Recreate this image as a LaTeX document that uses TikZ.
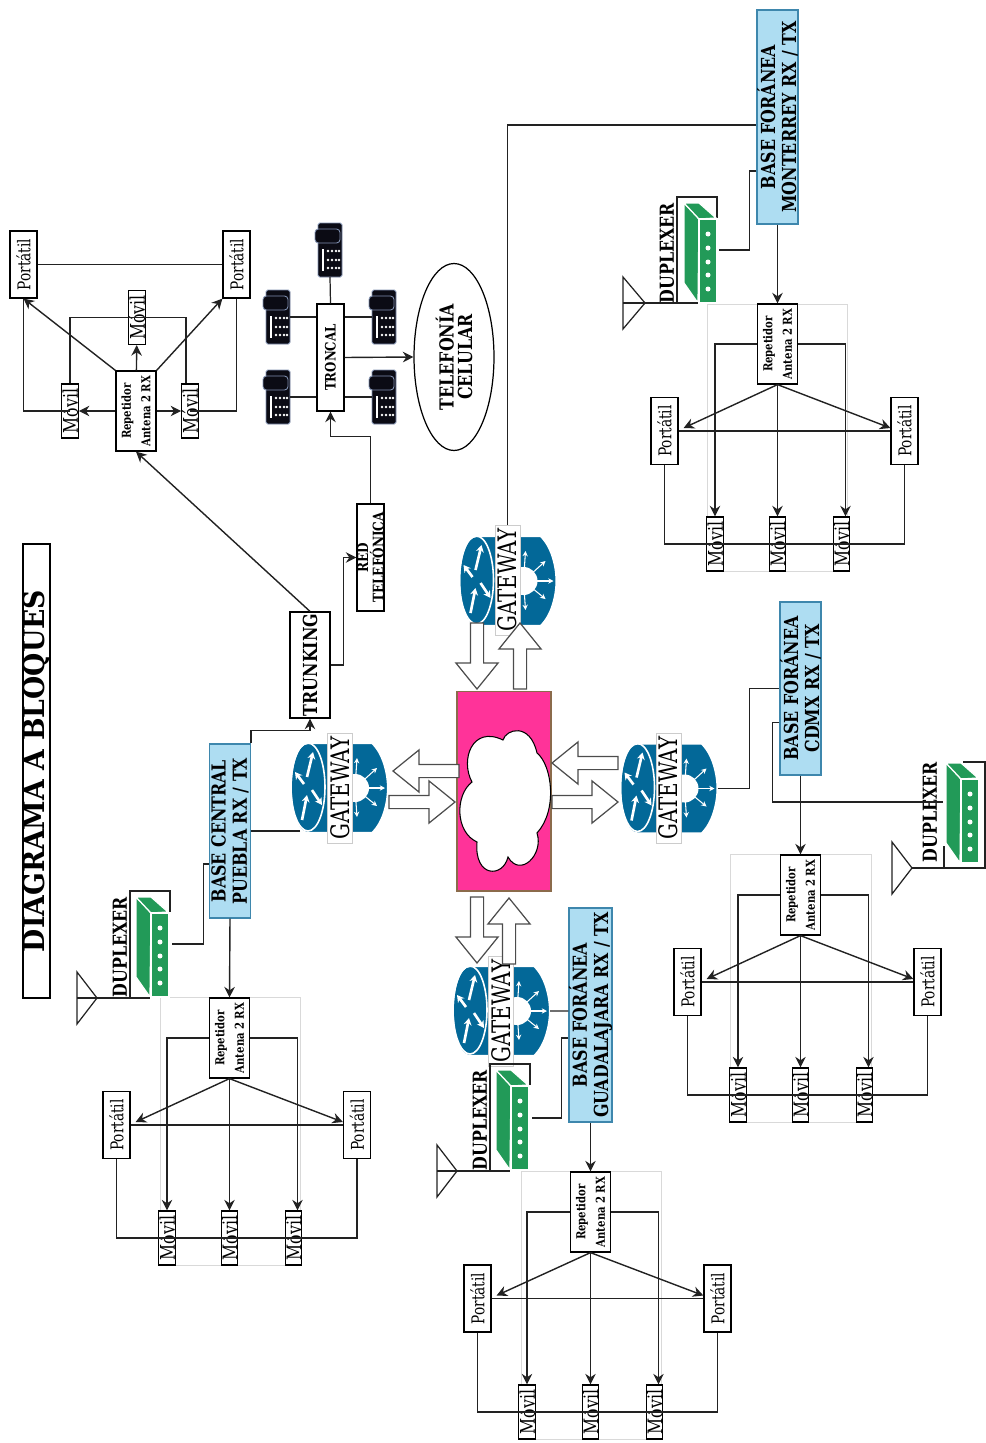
\documentclass[tikz,border=0pt]{standalone}
\usepackage{tikz}
\usepackage{xcolor}
\usepackage{fontspec}
\setmainfont{DejaVu Serif}[FakeStretch=0.78,BoldFeatures={FakeStretch=0.82}]
\newfontfamily\titlefont{DejaVu Serif}[FakeStretch=0.92]
\usetikzlibrary{shapes,arrows.meta,positioning,calc}
\definecolor{BaseBlue}{HTML}{AEDDF2}
\definecolor{BaseEdge}{HTML}{3E87AD}
\definecolor{RouterBlue}{HTML}{036898}
\definecolor{DuplexGreen}{HTML}{229A58}
\definecolor{NetPink}{HTML}{FF3399}
\definecolor{NetEdge}{HTML}{8B6B4B}
\definecolor{PhoneBlack}{HTML}{0B0B14}
\definecolor{PhoneEdge}{HTML}{8090B0}
\definecolor{LineBlack}{HTML}{222222}
\tikzset{
    % Base node style
    basenode/.style={
        draw=black,
        fill=white,
        line width=0.7pt,
        rotate=90,
        align=center,
        inner sep=0pt,
        font=\fontsize{10}{12}\selectfont
    },
    % Title box
    titlenode/.style={
        basenode,
        minimum width=9.08cm,
        minimum height=0.54cm,
        font=\fontsize{16.5}{20}\titlefont\bfseries
    },
    % Portable radio
    portnode/.style={
        basenode,
        minimum width=1.34cm,
        minimum height=0.54cm
    },
    % Mobile radio
    movilnode/.style={
        basenode,
        minimum width=1.08cm,
        minimum height=0.29cm,
        font=\fontsize{11.5}{12}\selectfont
    },
    % Repeater
    repnode/.style={
        basenode,
        minimum width=1.6cm,
        minimum height=0.8cm,
        font=\fontsize{7}{11}\selectfont\bfseries
    },
    % Base station
    basestation/.style={
        basenode,
        draw=BaseEdge,
        fill=BaseBlue,
        minimum height=0.81cm,
        font=\fontsize{11}{12}\selectfont\bfseries
    },
    % Gateway label
    gatenode/.style={
        basenode,
        draw=black!20,
        line width=0.3pt,
        minimum width=2.2cm,
        minimum height=0.5cm,
        font=\fontsize{14.5}{12}\selectfont
    },
    % Bold boxes
    boldbox/.style={
        basenode,
        font=\fontsize{8.4}{8.8}\selectfont\bfseries
    },
    % Duplexer label
    duplabel/.style={
        rotate=90,
        inner sep=0pt,
        font=\fontsize{11}{12}\selectfont\bfseries
    },
    % Block arrow
    bigarrow/.style={
        single arrow,
        anchor=tip,
        draw=black!70,
        fill=white,
        line width=0.7pt,
        inner sep=0pt,
        text height=0.24cm,
        single arrow head extend=0.29cm,
        single arrow head indent=0cm,
        single arrow tip angle=78,
        minimum height=1.32cm
    },
    % Arrow styles (straight lines only)
    myarrow/.style={
        -{Stealth[length=6pt,width=6pt]},
        line width=0.8pt,
        draw=LineBlack
    },
    myline/.style={
        line width=0.7pt,
        draw=LineBlack
    },
    % Frame behind a repeater group
    groupframe/.style={
        draw=black!15,
        line width=0.4pt
    },
    % Antenna triangle
    antenna/.style={
        draw=LineBlack,
        line width=0.7pt,
        fill=white
    },
    % Router icon
    router/.pic={
        \draw[white, line width=1.2pt, fill=RouterBlue] (-31,-45) -- (33,-45)
            .. controls (44,-35) and (49,-15) .. (49,0)
            .. controls (49,15) and (44,35) .. (33,45) -- (-31,45)
            .. controls (-54,45) and (-54,-45) .. (-31,-45) -- cycle;
        \draw[white, line width=0.9pt] (-31,-1) ellipse (17 and 44);
        \fill[white] (16,0) circle (14);
        \foreach \tipx/\tipy in {18/-30,38/-20,46/0,38/18,18/29}
            \draw[white, line width=0.6pt, -{Stealth[length=3pt,width=3pt]}] (16,0) -- (\tipx,\tipy);
        \foreach \fromx/\fromy/\tox/\toy in {-32/-11/-26/-36,-35/-4/-44/-16,-37/32/-32/7,-27/2/-17/17}
            \draw[white, line width=1.5pt, -{Stealth[length=4pt,width=4.5pt]}] (\fromx,\fromy) -- (\tox,\toy);
        \coordinate (-w) at (-39,43);
        \coordinate (-e) at (49,0);
    },
    % Duplexer icon
    duplexer/.pic={
        \draw[white, line width=0.7pt, fill=DuplexGreen] (-17,-50) -- (-2,-34) -- (-3,50) -- (-17,30) -- cycle;
        \draw[white, line width=0.7pt, fill=DuplexGreen] (-17,-50) -- (-2,-50) -- (15,-35) -- (-2,-34) -- cycle;
        \draw[white, line width=0.7pt, fill=DuplexGreen] (-2,-34) rectangle (16,50);
        \foreach \doty in {-19,-5,9,22,36}
            \fill[white] (7,\doty) circle (2.5);
    },
    % Telephone icon
    telephone/.pic={
        \draw[PhoneEdge, line width=0.5pt, fill=PhoneBlack, rounded corners=1pt] (-12,-27) rectangle (12,27);
        \draw[PhoneEdge, line width=0.5pt, fill=PhoneBlack, rounded corners=2pt] (-15,-21) rectangle (10,-7);
        \fill[white] (-8,-1) rectangle (-6,21);
        \foreach \keyx in {-2,2,6,9}
            \foreach \keyy in {1,10,18}
                \fill[white] (\keyx,\keyy) circle (1.3);
        \coordinate (-n) at (0,-27);
        \coordinate (-s) at (0,27);
        \coordinate (-w) at (-12,0);
        \coordinate (-e) at (12,0);
    }
}
\begin{document}
\begin{tikzpicture}[x=0.02cm, y=-0.02cm]
        \useasboundingbox (0,0) rectangle (985,1443);

        % Title
        \node[titlenode] (title) at (36.5,771) {DIAGRAMA A BLOQUES};

        % Repeater at the trunking side
        \node[repnode] (rp0) at (136,411) {Repetidor\\Antena 2 RX};
        \node[movilnode] (mv0a) at (70,411) {Móvil};
        \node[movilnode] (mv0b) at (137,317.5) {Móvil};
        \node[movilnode] (mv0c) at (190,411) {Móvil};
        \node[portnode] (pt0a) at (23.5,264.5) {Portátil};
        \node[portnode] (pt0b) at (236.5,264.5) {Portátil};
        \draw[myarrow] (rp0) -- (mv0a);
        \draw[myarrow] (rp0) -- (mv0b);
        \draw[myarrow] (rp0) -- (mv0c);
        \draw[myarrow] (rp0.north east) -- (pt0a.west);
        \draw[myarrow] (rp0.south east) -- (pt0b.north west);
        \draw[myline] (pt0a) -- (pt0b);
        \draw[myline] (pt0a.west) |- (mv0a.center);
        \draw[myline] (pt0b.west) |- (mv0c.center);
        \draw[myline] (mv0a.east) |- (mv0b.south);
        \draw[myline] ([xshift=-0.08cm]mv0c.east) |- (mv0b.north);

        % Trunk and telephones
        \node[basenode, minimum width=2.14cm, minimum height=0.54cm, font=\fontsize{8.2}{12}\selectfont\bfseries] (tc) at (330.5,357.5) {TRONCAL};
        \pic (ph1) at (330,250) {telephone};
        \pic (ph2) at (278,317) {telephone};
        \pic (ph3) at (384,317) {telephone};
        \pic (ph4) at (278,397) {telephone};
        \pic (ph5) at (384,397) {telephone};
        \draw[myline] (ph1-s) -- (tc.east);
        \draw[myline] (ph2-e) -- (ph2-e -| tc.north);
        \draw[myline] (ph3-w) -- (ph3-w -| tc.south);
        \draw[myline] (ph4-e) -- (ph4-e -| tc.north);
        \draw[myline] (ph5-w) -- (ph5-w -| tc.south);
        \node[boldbox, ellipse, minimum width=3.74cm, minimum height=1.6cm, font=\fontsize{11}{10.5}\selectfont\bfseries] (cel) at (454,357) {TELEFONÍA\\CELULAR};
        \draw[myarrow] (tc.south) -- (cel.north);

        % Trunking and telephone network
        \node[basenode, minimum width=2.12cm, minimum height=0.8cm, font=\fontsize{11}{12}\selectfont\bfseries] (tr) at (310,665) {TRUNKING};
        \node[boldbox, minimum width=2.14cm, minimum height=0.54cm] (red) at (370.5,557.5) {RED\\TELEFÓNICA};
        \draw[myarrow] (tr.east) -- (rp0.west);
        \draw[myarrow] (tr.south) -- ++(13,0) |- (red.north);
        \draw[myarrow] (red.east) -- ++(0,-67) -| (tc.west);

        % Central network
        \node[draw=NetEdge, fill=NetPink, line width=0.6pt, minimum width=1.88cm, minimum height=4cm, inner sep=0pt] (net) at (504,791) {};
        \draw[draw=black, fill=white, line width=0.6pt] (503,740)
            .. controls (506,729) and (530,722) .. (537,753)
            .. controls (552,765) and (558,810) .. (537,833)
            .. controls (544,855) and (520,878) .. (508,857)
            .. controls (503,878) and (474,878) .. (477,842)
            .. controls (455,832) and (455,795) .. (472,782)
            .. controls (460,760) and (472,725) .. (503,740) -- cycle;

        % Puebla
        \draw[groupframe] (160,997) rectangle (300,1265);
        \node[basestation, minimum width=3.48cm] (bs1) at (230,831) {BASE CENTRAL\\PUEBLA RX / TX};
        \pic (rt1) at (339,788) {router};
        \node[gatenode] (gw1) at (340,788) {GATEWAY};
        \draw[myline] (rt1-w) -- (bs1.south);
        \draw[myarrow] (bs1.south east) -- ++(0,-13) -| (tr.west);
        \node[duplabel] (dl1) at (120,947) {DUPLEXER};
        \draw[myline] (130,998) -- (130,891) -- (170,891) -- (170,912);
        \pic (dp1) at (153,947) {duplexer};
        \coordinate (ap1) at (172,944);
        \coordinate (ak1) at (150,998);
        \draw[antenna] (77,972) -- (97,998) -- (77,1024) -- cycle;
        \coordinate (an1) at (77,998);
        \draw[myline] (an1) -- (ak1);
        \draw[myline] ([yshift=-0.66cm]bs1.north) -- ++(-6,0) |- (ap1);
        \node[repnode] (rp1) at (229.5,1038) {Repetidor\\Antena 2 RX};
        \node[portnode] (pt1a) at (116.5,1125) {Portátil};
        \node[portnode] (pt1b) at (357,1125) {Portátil};
        \node[movilnode] (mv1a) at (167,1238) {Móvil};
        \node[movilnode] (mv1b) at (229.5,1238) {Móvil};
        \node[movilnode] (mv1c) at (293.5,1238) {Móvil};
        \draw[myarrow] (bs1.west) -- (rp1.east);
        \draw[myarrow] (rp1.north) -| (mv1a.east);
        \draw[myarrow] (rp1.west) -- (mv1b.east);
        \draw[myarrow] (rp1.south) -| ([xshift=0.08cm]mv1c.east);
        \draw[myarrow] (rp1.west) -- ([xshift=0.1cm,yshift=0.06cm]pt1a.south);
        \draw[myarrow] (rp1.west) -- ([yshift=0.06cm]pt1b.north);
        \draw[myline] (pt1a.south) -- (pt1b.north);
        \draw[myline] (pt1a.west) |- (mv1b.center) -| (pt1b.west);

        % Guadalajara
        \draw[groupframe] (521,1171) rectangle (661,1439);
        \node[basestation, minimum width=4.28cm] (bs3) at (590.5,1015) {BASE FORÁNEA\\GUADALAJARA RX / TX};
        \pic (rt3) at (501,1011) {router};
        \node[gatenode] (gw3) at (501,1011) {GATEWAY};
        \draw[myline] (rt3-e) -- ([yshift=0.08cm]bs3.north);
        \node[duplabel] (dl3) at (480,1120) {DUPLEXER};
        \draw[myline] (490,1171) -- (490,1064) -- (530,1064) -- (530,1085);
        \pic (dp3) at (513,1120) {duplexer};
        \coordinate (ap3) at (532,1118);
        \coordinate (ak3) at (510,1171);
        \draw[antenna] (437,1145) -- (457,1171) -- (437,1197) -- cycle;
        \coordinate (an3) at (437,1171);
        \draw[myline] (an3) -- (ak3);
        \draw[myline] ([yshift=-0.46cm]bs3.north) -- ++(-7,0) |- (ap3);
        \node[repnode] (rp3) at (590.5,1212) {Repetidor\\Antena 2 RX};
        \node[portnode] (pt3a) at (477.5,1298.5) {Portátil};
        \node[portnode] (pt3b) at (717.5,1298.5) {Portátil};
        \node[movilnode] (mv3a) at (527,1412) {Móvil};
        \node[movilnode] (mv3b) at (590.5,1412) {Móvil};
        \node[movilnode] (mv3c) at (654.5,1412) {Móvil};
        \draw[myarrow] (bs3.west) -- (rp3.east);
        \draw[myarrow] (rp3.north) -| (mv3a.east);
        \draw[myarrow] (rp3.west) -- (mv3b.east);
        \draw[myarrow] (rp3.south) -| ([xshift=0.08cm]mv3c.east);
        \draw[myarrow] (rp3.west) -- ([xshift=0.1cm,yshift=0.06cm]pt3a.south);
        \draw[myarrow] (rp3.west) -- ([yshift=0.06cm]pt3b.north);
        \draw[myline] (pt3a.south) -- (pt3b.north);
        \draw[myline] (pt3a.west) |- (mv3b.center) -| (pt3b.west);

        % CDMX
        \draw[groupframe] (730,854) rectangle (871,1122);
        \node[basestation, minimum width=3.46cm] (bs2) at (800.5,688.5) {BASE FORÁNEA\\CDMX RX / TX};
        \pic (rt2) at (668.5,788.5) {router};
        \node[gatenode] (gw2) at (668.5,788) {GATEWAY};
        \draw[myline] (rt2-e) -- ++(32,0) |- (bs2.north);
        \node[duplabel] (dl2) at (930,812) {DUPLEXER};
        \draw[myline] (944,868) -- (944,846);
        \draw[myline] (892,868) -- (985,868) -- (985,762) -- (963,762);
        \pic (dp2) at (963,813) {duplexer};
        \coordinate (ap2) at (943,802);
        \draw[antenna] (892,842) -- (912,868) -- (892,894) -- cycle;
        \draw[myline] ([yshift=-0.68cm]bs2.north) -- ++(-7,0) |- (ap2);
        \node[repnode] (rp2) at (800.5,895) {Repetidor\\Antena 2 RX};
        \node[portnode] (pt2a) at (687.5,982) {Portátil};
        \node[portnode] (pt2b) at (927.5,982) {Portátil};
        \node[movilnode] (mv2a) at (738,1095) {Móvil};
        \node[movilnode] (mv2b) at (800.5,1095) {Móvil};
        \node[movilnode] (mv2c) at (864.5,1095) {Móvil};
        \draw[myarrow] (bs2.west) -- (rp2.east);
        \draw[myarrow] (rp2.north) -| (mv2a.east);
        \draw[myarrow] (rp2.west) -- (mv2b.east);
        \draw[myarrow] (rp2.south) -| ([xshift=0.08cm]mv2c.east);
        \draw[myarrow] (rp2.west) -- ([xshift=0.1cm,yshift=0.06cm]pt2a.south);
        \draw[myarrow] (rp2.west) -- ([yshift=0.06cm]pt2b.north);
        \draw[myline] (pt2a.south) -- (pt2b.north);
        \draw[myline] (pt2a.west) |- (mv2b.center) -| (pt2b.west);

        % Monterrey
        \draw[groupframe] (707,304) rectangle (847,571);
        \node[basestation, minimum width=4.28cm] (bs4) at (777.5,117) {BASE FORÁNEA\\MONTERREY RX / TX};
        \pic (rt4) at (507.5,581) {router};
        \node[gatenode] (gw4) at (507.5,580) {GATEWAY};
        \draw[myline] (gw4.east) |- ([yshift=-0.16cm]bs4.north);
        \node[duplabel] (dl4) at (667,253) {DUPLEXER};
        \draw[myline] (677,303) -- (677,197) -- (717,197) -- (717,218);
        \pic (dp4) at (701,253) {duplexer};
        \coordinate (ap4) at (719,250);
        \coordinate (ak4) at (698,303);
        \draw[antenna] (623,277) -- (645,303) -- (623,329) -- cycle;
        \coordinate (an4) at (623,303);
        \draw[myline] (an4) -- (ak4);
        \draw[myline] ([yshift=-1.08cm]bs4.north) -- ++(-7,0) |- (ap4);
        \node[repnode] (rp4) at (777.5,344) {Repetidor\\Antena 2 RX};
        \node[portnode] (pt4a) at (664.5,431) {Portátil};
        \node[portnode] (pt4b) at (904.5,431) {Portátil};
        \node[movilnode] (mv4a) at (715,544) {Móvil};
        \node[movilnode] (mv4b) at (777.5,544) {Móvil};
        \node[movilnode] (mv4c) at (841.5,544) {Móvil};
        \draw[myarrow] (bs4.west) -- (rp4.east);
        \draw[myarrow] (rp4.north) -| (mv4a.east);
        \draw[myarrow] (rp4.west) -- (mv4b.east);
        \draw[myarrow] (rp4.south) -| ([xshift=0.08cm]mv4c.east);
        \draw[myarrow] (rp4.west) -- ([xshift=0.1cm,yshift=0.06cm]pt4a.south);
        \draw[myarrow] (rp4.west) -- ([yshift=0.06cm]pt4b.north);
        \draw[myline] (pt4a.south) -- (pt4b.north);
        \draw[myline] (pt4a.west) |- (mv4b.center) -| (pt4b.west);

        % Block arrows round the network
        \node[bigarrow, rotate=-90] (ar1) at (477,690) {};
        \node[bigarrow, rotate=90] (ar2) at (520,622) {};
        \node[bigarrow, rotate=180] (ar3) at (392,771) {};
        \node[bigarrow] (ar4) at (456,802) {};
        \node[bigarrow, rotate=180] (ar5) at (551,763) {};
        \node[bigarrow] (ar6) at (619,802) {};
        \node[bigarrow, rotate=-90] (ar7) at (477,964) {};
        \node[bigarrow, rotate=90] (ar8) at (509,897) {};
\end{tikzpicture}
\end{document}
